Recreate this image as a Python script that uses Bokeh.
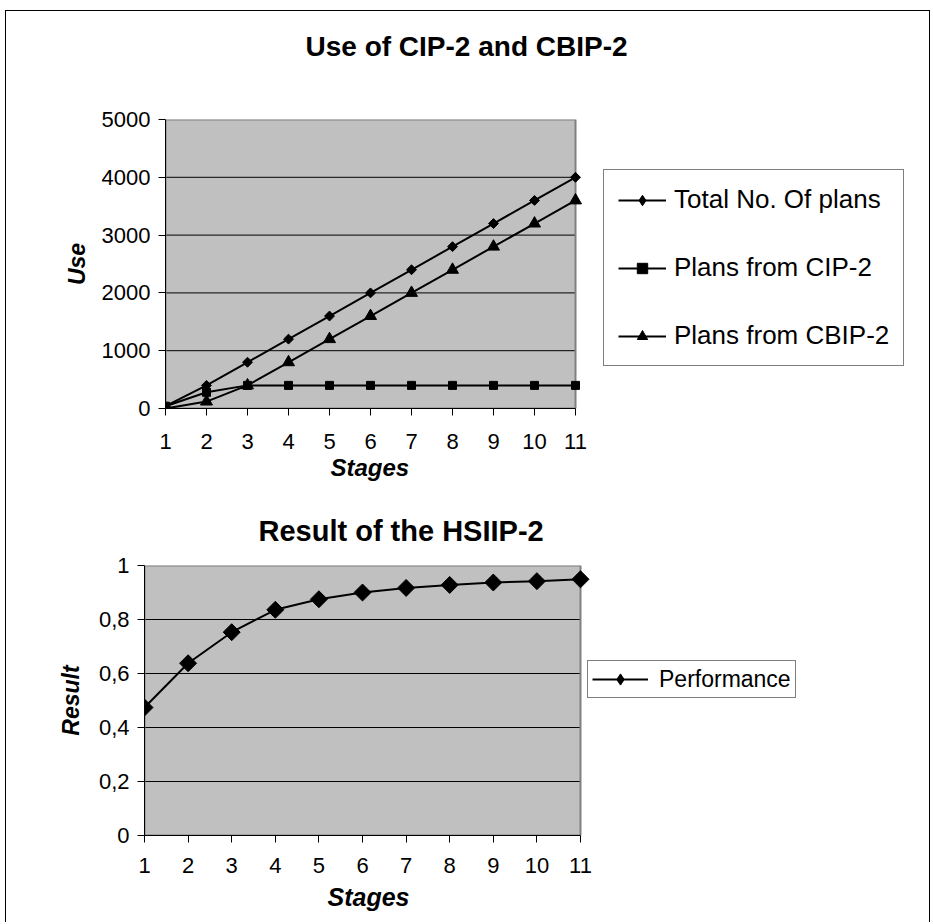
import numpy as np
from bokeh.plotting import figure
from bokeh.models import Range1d, FixedTicker, Legend, LegendItem, Title
from bokeh.embed import file_html
from bokeh.resources import INLINE

stages = list(range(1, 12))
total_plans = [40, 400, 800, 1200, 1600, 2000, 2400, 2800, 3200, 3600, 4000]
plans_cip2 = [40, 280, 400, 400, 400, 400, 400, 400, 400, 400, 400]
plans_cbip2 = [0, 120, 400, 800, 1200, 1600, 2000, 2400, 2800, 3200, 3600]
performance = [0.474, 0.638, 0.753, 0.836, 0.875, 0.900, 0.917, 0.928, 0.937, 0.942, 0.949]
use_ticks = [0, 1000, 2000, 3000, 4000, 5000]
result_ticks = [0, 0.2, 0.4, 0.6, 0.8, 1.0]
result_tick_labels = ["0", "0,2", "0,4", "0,6", "0,8", "1"]

FONT = "Liberation Sans"
FIG_W = 925
BORDER_R = 10


def make_fig(height, left, plot_w, top, bottom, yticks):
    # the frame extends to the right so the legend can sit inside it;
    # the x range is widened so that stages 1..11 span plot_w pixels
    frame_w = FIG_W - left - BORDER_R
    x0, x1 = stages[0], stages[-1]
    x_end = x0 + (x1 - x0) * frame_w / plot_w
    p = figure(width=FIG_W, height=height, x_range=Range1d(x0, x_end),
               y_range=Range1d(yticks[0], yticks[-1]),
               output_backend="svg", toolbar_location=None,
               min_border_left=left, min_border_right=BORDER_R,
               min_border_top=top, min_border_bottom=bottom)
    p.background_fill_color = "white"
    p.border_fill_color = "white"
    p.outline_line_color = None
    p.xgrid.visible = False
    p.ygrid.visible = False
    # plot area
    p.quad(left=[x0], right=[x1], bottom=[yticks[0]], top=[yticks[-1]],
           fill_color="#C0C0C0", line_color=None)
    inner = yticks[1:-1]
    p.segment(x0=[x0] * len(inner), x1=[x1] * len(inner), y0=inner, y1=inner,
              line_color="black", line_width=1)
    p.quad(left=[x0], right=[x1], bottom=[yticks[0]], top=[yticks[-1]],
           fill_color=None, line_color="#808080", line_width=2)
    for ax in (p.xaxis[0], p.yaxis[0]):
        ax.axis_line_color = "black"
        ax.axis_line_width = 1
        ax.major_tick_line_color = "black"
        ax.major_tick_in = 0
        ax.major_tick_out = 7
        ax.minor_tick_line_color = None
        ax.major_label_text_font = FONT
        ax.major_label_text_font_size = "22px"
        ax.major_label_text_color = "black"
        ax.axis_label_text_font = FONT
        ax.axis_label_text_font_size = "23px"
        ax.axis_label_text_font_style = "bold italic"
        ax.axis_label_text_color = "black"
    p.xaxis[0].ticker = FixedTicker(ticks=stages)
    p.xaxis[0].bounds = (x0, x1)
    p.yaxis[0].ticker = FixedTicker(ticks=yticks)
    p.yaxis[0].major_label_standoff = 8
    return p


def x_title(p, text, offset, size, standoff):
    p.add_layout(Title(text=text, text_font=FONT, text_font_size=size,
                       text_font_style="bold italic", text_color="black",
                       align="left", offset=offset, vertical_align="top",
                       standoff=standoff), "below")


# ---------------- top chart ----------------
p1 = make_fig(484, 159, 410, 108, 87, use_ticks)
p1.yaxis[0].axis_label = "Use"
p1.xaxis[0].major_label_standoff = 18
p1.yaxis[0].axis_label_standoff = 9
x_title(p1, "Stages", 165, "24px", 4)
p1.add_layout(Title(text=" ", text_font=FONT, text_font_size="10px", standoff=40), "above")
p1.add_layout(Title(text="Use of CIP-2 and CBIP-2", text_font=FONT, text_font_size="28px",
                    text_font_style="bold", text_color="black", align="left", offset=140,
                    standoff=10), "above")

l1 = p1.line(stages, total_plans, line_color="black", line_width=2)
m1 = p1.scatter(stages, total_plans, marker="square", angle=np.pi / 4, size=7,
                fill_color="black", line_color="black")
l2 = p1.line(stages, plans_cip2, line_color="black", line_width=2)
m2 = p1.scatter(stages, plans_cip2, marker="square", size=8, fill_color="black", line_color="black")
l3 = p1.line(stages, plans_cbip2, line_color="black", line_width=2)
m3 = p1.scatter(stages, plans_cbip2, marker="triangle", size=12, fill_color="black", line_color="black")
# diamond glyph used only for the legend swatch
d1 = p1.scatter(stages, total_plans, marker="diamond", size=10, fill_color="black",
                line_color="black", visible=False)

leg1 = Legend(items=[LegendItem(label="Total No. Of plans", renderers=[l1, d1]),
                     LegendItem(label="Plans from CIP-2", renderers=[l2, m2]),
                     LegendItem(label="Plans from CBIP-2", renderers=[l3, m3])],
              location=(438, 42), orientation="vertical",
              label_text_font=FONT, label_text_font_size="26px", label_text_color="black",
              glyph_width=48, glyph_height=26, label_height=26, label_standoff=8,
              spacing=37, padding=14, margin=0, inactive_fill_alpha=0,
              border_line_color="black", border_line_width=1,
              background_fill_color="white", background_fill_alpha=1)
p1.add_layout(leg1, "center")

# ---------------- bottom chart ----------------
p2 = make_fig(428, 138, 436, 71, 87, result_ticks)
p2.yaxis[0].axis_label = "Result"
p2.yaxis[0].major_label_overrides = {t: s for t, s in zip(result_ticks, result_tick_labels)}
p2.xaxis[0].major_label_standoff = 15
p2.yaxis[0].axis_label_standoff = 12
x_title(p2, "Stages", 183, "25px", 14)
p2.add_layout(Title(text="Result of the HSIIP-2", text_font=FONT, text_font_size="29px",
                    text_font_style="bold", text_color="black", align="left", offset=114,
                    standoff=37), "above")

l4 = p2.line(stages, performance, line_color="black", line_width=2)
m4 = p2.scatter(stages, performance, marker="square", angle=np.pi / 4, size=12,
                fill_color="black", line_color="black")
d4 = p2.scatter(stages, performance, marker="diamond", size=16, fill_color="black",
                line_color="black", visible=False)

leg2 = Legend(items=[LegendItem(label="Performance", renderers=[l4, d4])],
              location=(443, 137), orientation="vertical",
              label_text_font=FONT, label_text_font_size="23px", label_text_color="black",
              glyph_width=56, glyph_height=28, label_height=26, label_standoff=11,
              padding=4, margin=0, inactive_fill_alpha=0,
              border_line_color="black", border_line_width=1,
              background_fill_color="white", background_fill_alpha=1)
p2.add_layout(leg2, "center")

p1.styles = {"margin-left": "5px", "margin-top": "10px",
             "border-top": "1px solid black", "border-left": "1px solid black",
             "border-right": "1px solid black"}
p2.styles = {"margin-left": "5px",
             "border-left": "1px solid black", "border-right": "1px solid black"}

open("out.html", "w").write(file_html([p1, p2], INLINE))
